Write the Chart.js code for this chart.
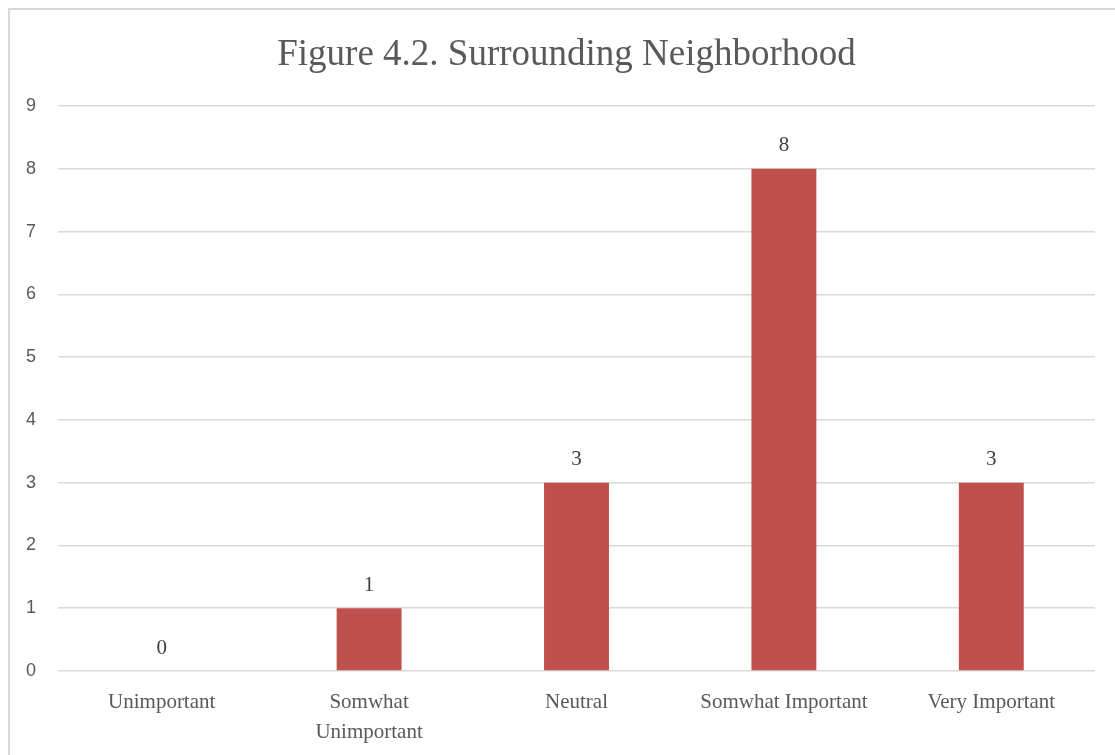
<!DOCTYPE html>
<html>
<head>
<meta charset="utf-8">
<script src="https://cdn.jsdelivr.net/npm/chart.js@4.4.1/dist/chart.umd.min.js"></script>
<style>
  html, body { margin: 0; padding: 0; background: #ffffff; overflow: hidden; }
  #frame { position: absolute; left: 8px; top: 8px; width: 1200px; height: 800px;
           border: 2px solid #d9d9d9; box-sizing: border-box; }
  #wrap { position: absolute; left: 0; top: 0; width: 1115px; height: 755px; }
</style>
</head>
<body>
<div id="frame"></div>
<div id="wrap"><canvas id="chart" width="1115" height="755"></canvas></div>
<script>
// Survey responses: importance of the surrounding neighborhood
const categories = ['Unimportant', ['Somwhat', 'Unimportant'], 'Neutral', 'Somwhat Important', 'Very Important'];
const responses = [0, 1, 3, 8, 3];
const yTicks = [0, 1, 2, 3, 4, 5, 6, 7, 8, 9];

const serif = '"Liberation Serif", "DejaVu Serif", serif';
const sans = '"Liberation Sans", "DejaVu Sans", sans-serif';

// Writes each bar's value just above its top edge
const valueLabels = {
  id: 'valueLabels',
  afterDatasetsDraw(chart) {
    const ctx = chart.ctx;
    const meta = chart.getDatasetMeta(0);
    ctx.save();
    ctx.font = '21px ' + serif;
    ctx.fillStyle = '#404040';
    ctx.textAlign = 'center';
    ctx.textBaseline = 'middle';
    meta.data.forEach((bar, i) => {
      ctx.fillText(String(chart.data.datasets[0].data[i]), bar.x, bar.y - 23);
    });
    ctx.restore();
  }
};

// Centres the title on the outer frame rather than on the canvas
const titleOffset = {
  id: 'titleOffset',
  afterLayout(chart) {
    const t = chart.titleBlock;
    if (t) { t.left += 19; t.right += 19; }
  }
};

new Chart(document.getElementById('chart'), {
  type: 'bar',
  data: {
    labels: categories,
    datasets: [{
      data: responses,
      backgroundColor: '#c0504d',
      borderWidth: 0,
      categoryPercentage: 1.0,
      barPercentage: 0.313
    }]
  },
  options: {
    responsive: false,
    animation: false,
    layout: { padding: { left: 0, right: 20, top: 10, bottom: 0 } },
    plugins: {
      legend: { display: false },
      tooltip: { enabled: false },
      title: {
        display: true,
        text: 'Figure 4.2. Surrounding Neighborhood',
        color: '#595959',
        font: { family: serif, size: 37, weight: 'normal', lineHeight: 1.2 },
        padding: { top: 23, bottom: 28.6 }
      }
    },
    scales: {
      x: {
        grid: { display: false, drawTicks: false },
        border: { display: false },
        ticks: {
          color: '#595959',
          font: { family: serif, size: 21, lineHeight: 1.4 },
          padding: 17,
          maxRotation: 0,
          autoSkip: false
        },
        afterFit(scale) { scale.height = 84; }
      },
      y: {
        min: 0,
        max: 9,
        afterBuildTicks(scale) { scale.ticks = yTicks.map(v => ({ value: v })); },
        grid: { color: '#d9d9d9', lineWidth: 1.5, drawTicks: false },
        border: { display: false },
        ticks: {
          color: '#595959',
          font: { family: sans, size: 18 },
          padding: 22
        },
        afterFit(scale) { scale.width = 58; }
      }
    }
  },
  plugins: [valueLabels, titleOffset]
});
</script>
</body>
</html>
